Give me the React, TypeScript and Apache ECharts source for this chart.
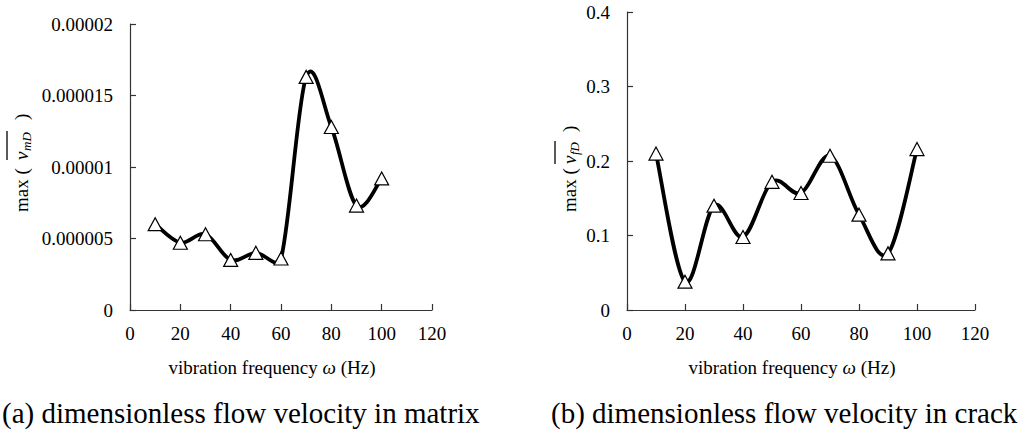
import React, { useEffect, useRef } from "react";
import * as echarts from "echarts";

const freq = [10, 20, 30, 40, 50, 60, 70, 80, 90, 100];
const matrixVel = [0.0000060, 0.0000047, 0.0000053, 0.0000035, 0.0000040, 0.0000036, 0.0000163, 0.0000128, 0.0000073, 0.0000092];
const crackVel = [0.210, 0.038, 0.140, 0.098, 0.172, 0.157, 0.207, 0.128, 0.076, 0.216];
const xTicks = ["0", "20", "40", "60", "80", "100", "120"];
const yTicksA = ["0", "0.000005", "0.00001", "0.000015", "0.00002"];
const yTicksB = ["0", "0.1", "0.2", "0.3", "0.4"];
const captionA = "(a) dimensionless flow velocity in matrix";
const captionB = "(b) dimensionless flow velocity in crack";

const FONT = '"Liberation Serif", "Times New Roman", serif';
const AXIS_COLOR = "#333";

function yTitle(gx: number, gy: number, sub: string, vx: number, subW: number, closeX: number) {
  const base = { fill: "#000", fontFamily: FONT, verticalAlign: "middle", align: "left" };
  return {
    type: "group",
    x: gx,
    y: gy,
    rotation: Math.PI / 2,
    children: [
      { type: "text", x: 0, y: 0, style: { ...base, text: "max (", fontSize: 19 } },
      { type: "text", x: vx, y: 0, style: { ...base, text: "v", fontSize: 19, fontStyle: "italic" } },
      { type: "text", x: vx + 9, y: 5, style: { ...base, text: sub, fontSize: 13, fontStyle: "italic" } },
      { type: "text", x: closeX, y: 0, style: { ...base, text: ")", fontSize: 19 } },
      {
        type: "line",
        shape: { x1: vx, y1: -14, x2: vx + 9 + subW, y2: -14 },
        style: { stroke: "#000", lineWidth: 1.3 },
      },
    ],
  };
}

// handle vector along (b - a), length min(|b-a|/6, segLen/2) (spreadsheet-style smoothing)
const handle = (a: number[], b: number[], segLen: number) => {
  const dx = b[0] - a[0];
  const dy = b[1] - a[1];
  const d = Math.hypot(dx, dy);
  if (d === 0) return [0, 0];
  const h = Math.min(d / 6, segLen / 2);
  return [(dx / d) * h, (dy / d) * h];
};

const smoothRender = (vals: number[]) => (params: any, api: any) => {
  const i = params.dataIndex;
  if (i >= vals.length - 1) return null;
  const P = (j: number) => {
    const k = Math.max(0, Math.min(vals.length - 1, j));
    return api.coord([freq[k], vals[k]]);
  };
  const p0 = P(i - 1);
  const p1 = P(i);
  const p2 = P(i + 1);
  const p3 = P(i + 2);
  const seg = Math.hypot(p2[0] - p1[0], p2[1] - p1[1]);
  const h1 = handle(p0, p2, seg);
  const h2 = handle(p1, p3, seg);
  return {
    type: "bezierCurve",
    shape: {
      x1: p1[0],
      y1: p1[1],
      x2: p2[0],
      y2: p2[1],
      cpx1: p1[0] + h1[0],
      cpy1: p1[1] + h1[1],
      cpx2: p2[0] - h2[0],
      cpy2: p2[1] - h2[1],
    },
    style: { stroke: "#000", lineWidth: 3.8, fill: "none", lineCap: "round" },
  };
};

export default function App() {
  const ref = useRef<HTMLDivElement>(null);
  useEffect(() => {
    document.body.style.margin = "0";
    const chart = echarts.init(ref.current!, null, { renderer: "svg" });
    const xAxisCommon = (gridIndex: number) => ({
      type: "value",
      gridIndex,
      min: 0,
      max: 120,
      interval: 20,
      name: "vibration frequency {i|ω} (Hz)",
      nameLocation: "middle",
      nameGap: 48,
      nameTextStyle: {
        fontFamily: FONT,
        fontSize: 19,
        color: "#000",
        padding: [0, 18, 0, 0],
        rich: { i: { fontFamily: FONT, fontSize: 19, fontStyle: "italic", color: "#000" } },
      },
      axisLine: { show: true, lineStyle: { color: AXIS_COLOR, width: 1.2 } },
      axisTick: { show: true, inside: true, length: 6, lineStyle: { color: AXIS_COLOR, width: 1.2 } },
      axisLabel: {
        margin: 14,
        fontFamily: FONT,
        fontSize: 19,
        color: "#000",
        formatter: (v: number, i: number) => xTicks[i] ?? String(v),
      },
      splitLine: { show: false },
    });
    const yAxisCommon = (gridIndex: number, max: number, interval: number, labels: string[]) => ({
      type: "value",
      gridIndex,
      min: 0,
      max,
      interval,
      axisLine: { show: true, lineStyle: { color: AXIS_COLOR, width: 1.2 } },
      axisTick: { show: true, inside: true, length: 6, lineStyle: { color: AXIS_COLOR, width: 1.2 } },
      axisLabel: {
        margin: 17,
        fontFamily: FONT,
        fontSize: 19,
        color: "#000",
        formatter: (v: number, i: number) => labels[i] ?? String(v),
      },
      splitLine: { show: false },
    });
    const markerCommon = {
      type: "scatter",
      symbol: "triangle",
      symbolSize: [14, 13],
      itemStyle: { color: "#fff", borderColor: "#000", borderWidth: 1.2, opacity: 1 },
      emphasis: { disabled: true },
      z: 5,
    };
    const curveCommon = {
      type: "custom",
      silent: true,
      z: 3,
      encode: { x: 0, y: 1 },
    };
    chart.setOption({
      animation: false,
      backgroundColor: "#fff",
      grid: [
        { left: 130, right: 596, top: 24, bottom: 126 },
        { left: 627, right: 53, top: 12, bottom: 126 },
      ],
      xAxis: [xAxisCommon(0), xAxisCommon(1)],
      yAxis: [yAxisCommon(0, 0.00002, 0.000005, yTicksA), yAxisCommon(1, 0.4, 0.1, yTicksB)],
      series: [
        {
          ...curveCommon,
          name: "matrix curve",
          xAxisIndex: 0,
          yAxisIndex: 0,
          renderItem: smoothRender(matrixVel),
          data: freq.map((f, i) => [f, matrixVel[i]]),
        },
        {
          ...curveCommon,
          name: "crack curve",
          xAxisIndex: 1,
          yAxisIndex: 1,
          renderItem: smoothRender(crackVel),
          data: freq.map((f, i) => [f, crackVel[i]]),
        },
        { ...markerCommon, name: "matrix", xAxisIndex: 0, yAxisIndex: 0, data: freq.map((f, i) => [f, matrixVel[i]]) },
        { ...markerCommon, name: "crack", xAxisIndex: 1, yAxisIndex: 1, data: freq.map((f, i) => [f, crackVel[i]]) },
      ],
      graphic: [
        yTitle(21, 212, "mD", 52, 20, 92),
        yTitle(569, 212, "fD", 48, 14, 80),
        {
          type: "text",
          x: 2,
          y: 413,
          style: { text: captionA, fontFamily: FONT, fontSize: 29, fill: "#000", verticalAlign: "middle", align: "left" },
        },
        {
          type: "text",
          x: 551,
          y: 413,
          style: { text: captionB, fontFamily: FONT, fontSize: 29, fill: "#000", verticalAlign: "middle", align: "left" },
        },
      ],
    });
    return () => chart.dispose();
  }, []);
  return <div ref={ref} style={{ width: 1028, height: 436 }} />;
}
